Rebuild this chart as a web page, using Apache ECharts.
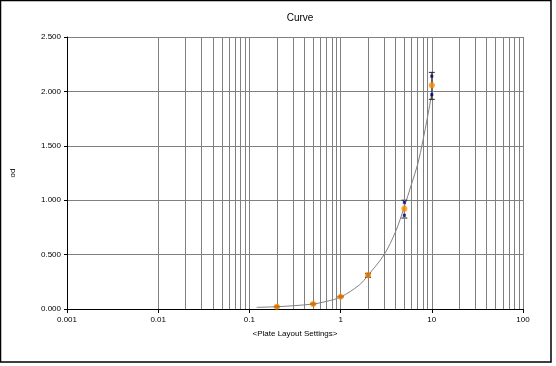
<!DOCTYPE html>
<html>
<head>
<meta charset="utf-8">
<script src="https://cdn.jsdelivr.net/npm/echarts@6/dist/echarts.min.js"></script>
<style>html,body{margin:0;padding:0;background:#fff;}#c{width:556px;height:366px;}</style>
</head>
<body>
<div id="c"></div>
<script>
var conc = [0.2, 0.5, 1, 2, 5, 10];
var meanOd = [0.021, 0.046, 0.113, 0.31, 0.922, 2.056];
var rep1 = [0.020, 0.045, 0.112, 0.318, 0.981, 2.14];
var rep2 = [0.022, 0.047, 0.114, 0.302, 0.861, 1.97];
var errLow = [0.019, 0.044, 0.110, 0.291, 0.836, 1.927];
var errHigh = [0.023, 0.048, 0.116, 0.328, 1.0, 2.175];
var fitX = [0.12, 0.2, 0.3, 0.5, 0.7, 1, 1.6, 2, 3, 4, 5, 6, 7, 8, 9, 10];
var fitY = [0.015, 0.021, 0.03, 0.046, 0.07, 0.11, 0.22, 0.31, 0.50, 0.71, 0.94, 1.15, 1.33, 1.55, 1.77, 1.98];
var minorGrid = [0.002,0.003,0.004,0.005,0.006,0.007,0.008,0.009,
  0.02,0.03,0.04,0.05,0.06,0.07,0.08,0.09,
  0.2,0.3,0.4,0.5,0.6,0.7,0.8,0.9,
  2,3,4,5,6,7,8,9,
  20,30,40,50,60,70,80,90];
var yTicks = [0, 0.5, 1, 1.5, 2, 2.5];

var FONT = 'Liberation Sans';
var chart = echarts.init(document.getElementById('c'), null, {renderer:'canvas'});

function zip(a,b){return a.map(function(v,i){return [v,b[i]];});}

chart.setOption({
  animation:false,
  backgroundColor:'#fff',
  title:{text:'Curve', left:295, textAlign:'center', top:8,
    textStyle:{fontFamily:FONT, fontSize:10, fontWeight:'normal', color:'#000'}},
  grid:{left:67, right:33, top:37, bottom:57},
  graphic:[{type:'rect', shape:{x:0.5,y:0.5,width:550.5,height:361.5},
    style:{fill:null, stroke:'#000', lineWidth:1.5}, silent:true}],
  xAxis:{type:'log', logBase:10, min:0.001, max:100,
    name:'<Plate Layout Settings>', nameLocation:'middle', nameGap:21,
    nameTextStyle:{fontFamily:FONT, fontSize:8, color:'#000'},
    axisLine:{show:true, onZero:false, lineStyle:{color:'#000', width:1}},
    axisTick:{show:true, length:4, lineStyle:{color:'#000'}},
    axisLabel:{fontFamily:FONT, fontSize:8, color:'#000', margin:7,
      formatter:function(v){return String(+v.toPrecision(3));}},
    splitLine:{show:true, lineStyle:{color:'#808080', width:1}}},
  yAxis:{type:'value', min:yTicks[0], max:yTicks[yTicks.length-1], interval:0.5,
    name:'od', nameLocation:'middle', nameGap:50, nameRotate:90,
    nameTextStyle:{fontFamily:FONT, fontSize:8, color:'#000'},
    axisLine:{show:true, lineStyle:{color:'#000', width:1}},
    axisTick:{show:true, length:3, lineStyle:{color:'#000'}},
    axisLabel:{fontFamily:FONT, fontSize:8, color:'#000', margin:6,
      formatter:function(v){return v.toFixed(3);}},
    splitLine:{show:true, lineStyle:{color:'#808080', width:1}}},
  series:[
    {type:'line', data:[], silent:true, z:1,
      markLine:{silent:true, symbol:['none','none'], animation:false,
        label:{show:false}, lineStyle:{color:'#808080', width:1, type:'solid'},
        emphasis:{disabled:true},
        data:minorGrid.map(function(v){return {xAxis:v};})}},
    {type:'line', data:zip(fitX, fitY), smooth:0.35, showSymbol:false, z:3,
      lineStyle:{color:'#808080', width:1}},
    {type:'custom', z:4, data:conc.map(function(c,i){return [c, errLow[i], errHigh[i]];}),
      renderItem:function(params, api){
        var lo = api.coord([api.value(0), api.value(1)]);
        var hi = api.coord([api.value(0), api.value(2)]);
        var w = 3;
        return {type:'group', children:[
          {type:'line', shape:{x1:lo[0],y1:lo[1],x2:hi[0],y2:hi[1]}, style:{stroke:'#222',lineWidth:1}},
          {type:'line', shape:{x1:lo[0]-w,y1:lo[1],x2:lo[0]+w,y2:lo[1]}, style:{stroke:'#222',lineWidth:1}},
          {type:'line', shape:{x1:hi[0]-w,y1:hi[1],x2:hi[0]+w,y2:hi[1]}, style:{stroke:'#222',lineWidth:1}}
        ]};
      }},
    {type:'scatter', data:zip(conc, rep1), symbol:'rect', symbolSize:3, z:5,
      itemStyle:{color:'#000080'}},
    {type:'scatter', data:zip(conc, rep2), symbol:'rect', symbolSize:3, z:5,
      itemStyle:{color:'#000080'}},
    {type:'scatter', data:zip(conc, meanOd), symbol:'circle', symbolSize:6, z:6,
      itemStyle:{color:'#FF8C00'}}
  ]
});
</script>
</body>
</html>
